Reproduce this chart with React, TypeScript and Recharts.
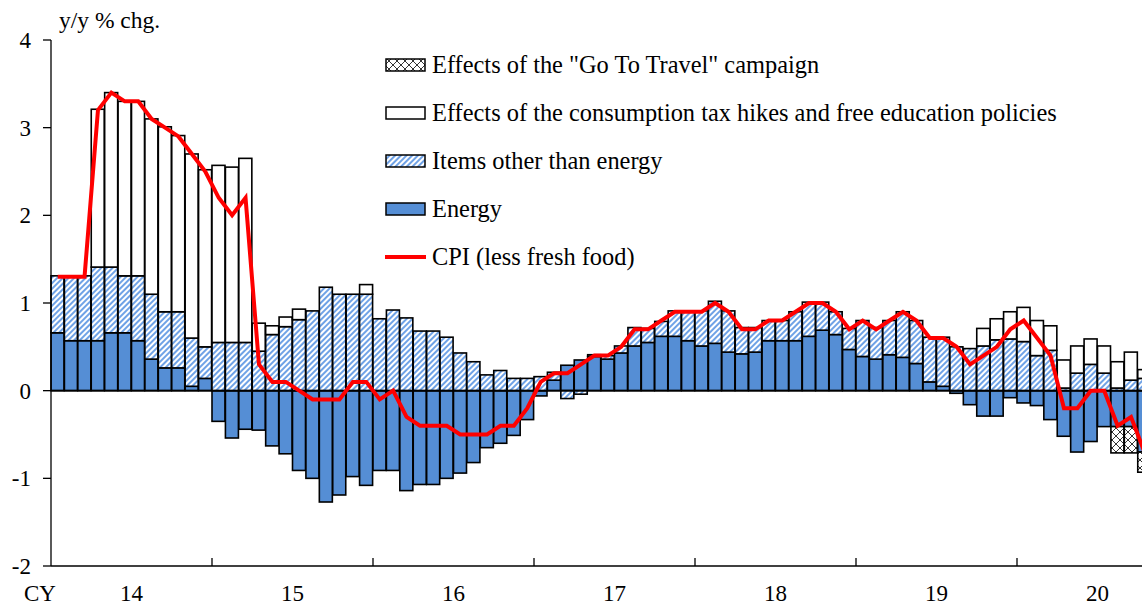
import React from 'react';
import { ComposedChart, Bar, Line, XAxis, YAxis, ReferenceLine, Legend } from 'recharts';

const FONT = '"Times New Roman", "Liberation Serif", "DejaVu Serif", serif';

const years = ['14', '15', '16', '17', '18', '19', '20'];
const monthNames = ['Jan', 'Feb', 'Mar', 'Apr', 'May', 'Jun', 'Jul', 'Aug', 'Sep', 'Oct', 'Nov', 'Dec'];
const months = years.flatMap((y) => monthNames.map((m) => `${m}-${y}`));
// Jan ticks mark the year boundaries, Jul ticks carry the year labels
const yearTicks = years.flatMap((y) => [`Jan-${y}`, `Jul-${y}`]);

const energy = [
  0.66, 0.57, 0.57, 0.57, 0.66, 0.66, 0.57, 0.36, 0.26, 0.26, 0.05, 0.14,
  -0.35, -0.54, -0.44, -0.45, -0.63, -0.72, -0.91, -1.0, -1.27, -1.19, -0.98, -1.08,
  -0.91, -0.91, -1.14, -1.07, -1.07, -1.0, -0.94, -0.82, -0.65, -0.6, -0.51, -0.33,
  -0.06, 0.12, 0.29, 0.35, 0.39, 0.36, 0.43, 0.51, 0.55, 0.62, 0.62, 0.57,
  0.51, 0.54, 0.44, 0.42, 0.44, 0.57, 0.57, 0.57, 0.62, 0.69, 0.64, 0.47,
  0.39, 0.36, 0.41, 0.38, 0.31, 0.1, 0.05, -0.03, -0.16, -0.29, -0.29, -0.08,
  -0.14, -0.17, -0.33, -0.52, -0.7, -0.58, -0.41, -0.41, -0.41, -0.7,
];

const otherItems = [
  0.65, 0.74, 0.74, 0.84, 0.75, 0.65, 0.74, 0.74, 0.64, 0.64, 0.55, 0.36,
  0.55, 0.55, 0.55, 0.45, 0.64, 0.73, 0.81, 0.91, 1.18, 1.1, 1.1, 1.1,
  0.82, 0.92, 0.83, 0.68, 0.68, 0.61, 0.43, 0.33, 0.18, 0.23, 0.14, 0.14,
  0.16, 0.09, -0.09, -0.04, 0.02, 0.04, 0.08, 0.21, 0.16, 0.17, 0.29, 0.34,
  0.4, 0.48, 0.47, 0.3, 0.28, 0.23, 0.23, 0.33, 0.39, 0.32, 0.26, 0.24,
  0.41, 0.36, 0.39, 0.52, 0.49, 0.51, 0.56, 0.5, 0.48, 0.51, 0.58, 0.59,
  0.56, 0.4, 0.46, 0.03, 0.2, 0.3, 0.2, 0.03, 0.12, 0.14,
];

const taxEffects = [
  null, null, null, 1.8, 1.99, 1.99, 1.99, 2.0, 2.11, 2.01, 2.1, 2.02,
  2.02, 2.0, 2.1, 0.32, 0.1, 0.11, 0.12, null, null, null, null, 0.11,
  null, null, null, null, null, null, null, null, null, null, null, null,
  null, null, null, null, null, null, null, null, null, null, null, null,
  null, null, null, null, null, null, null, null, null, null, null, null,
  null, null, null, null, null, null, null, null, null, 0.2, 0.24, 0.31,
  0.39, 0.4, 0.28, 0.32, 0.31, 0.29, 0.31, 0.3, 0.32, 0.1,
];

const goToTravel = [
  null, null, null, null, null, null, null, null, null, null, null, null,
  null, null, null, null, null, null, null, null, null, null, null, null,
  null, null, null, null, null, null, null, null, null, null, null, null,
  null, null, null, null, null, null, null, null, null, null, null, null,
  null, null, null, null, null, null, null, null, null, null, null, null,
  null, null, null, null, null, null, null, null, null, null, null, null,
  null, null, null, null, null, null, null, -0.3, -0.3, -0.23,
];

const cpi = [
  1.3, 1.3, 1.3, 3.2, 3.4, 3.3, 3.3, 3.1, 3.0, 2.9, 2.7, 2.5,
  2.2, 2.0, 2.2, 0.3, 0.1, 0.1, 0.0, -0.1, -0.1, -0.1, 0.1, 0.1,
  -0.1, 0.0, -0.3, -0.4, -0.4, -0.4, -0.5, -0.5, -0.5, -0.4, -0.4, -0.2,
  0.1, 0.2, 0.2, 0.3, 0.4, 0.4, 0.5, 0.7, 0.7, 0.8, 0.9, 0.9,
  0.9, 1.0, 0.9, 0.7, 0.7, 0.8, 0.8, 0.9, 1.0, 1.0, 0.9, 0.7,
  0.8, 0.7, 0.8, 0.9, 0.8, 0.6, 0.6, 0.5, 0.3, 0.4, 0.5, 0.7,
  0.8, 0.6, 0.4, -0.2, -0.2, 0.0, 0.0, -0.4, -0.3, -0.7,
];

const yTicks = [-2, -1, 0, 1, 2, 3, 4];

const data = months.map((m, i) => ({
  m,
  energy: energy[i] ?? null,
  other: otherItems[i] ?? null,
  tax: taxEffects[i] ?? null,
  gtt: goToTravel[i] ?? null,
  cpi: cpi[i] ?? null,
}));

const legendItems = [
  { label: 'Effects of the "Go To Travel" campaign', fill: 'url(#crossPat)' },
  { label: 'Effects of the consumption tax hikes and free education policies', fill: '#ffffff' },
  { label: 'Items other than energy', fill: 'url(#hatchPat)' },
  { label: 'Energy', fill: '#558ed5' },
  { label: 'CPI (less fresh food)', line: true },
];

const BarShape = (props: any) => {
  const { x, y, width, height, fill } = props;
  if (!height || Math.abs(height) < 0.01) return null;
  const top = height < 0 ? y + height : y;
  return (
    <rect x={x} y={top} width={width} height={Math.abs(height)} fill={fill} stroke="#000" strokeWidth={1.6} />
  );
};

const YearTick = (props: any) => {
  const { x, y, payload } = props;
  const value: string = payload.value;
  const bx = x - (payload.offset ?? 6.71); // left edge of the month band
  const textStyle = { fontFamily: FONT, fontSize: 23, fill: '#000' };
  if (value.startsWith('Jan')) {
    const first = value === yearTicks[0];
    return (
      <g>
        {!first && <line x1={bx} x2={bx} y1={y} y2={y - 8} stroke="#000" strokeWidth={1.3} />}
        {first && (
          <text x={bx - 11} y={y + 35} textAnchor="middle" style={textStyle}>
            CY
          </text>
        )}
      </g>
    );
  }
  return (
    <text x={bx} y={y + 35} textAnchor="middle" style={textStyle}>
      {value.slice(4)}
    </text>
  );
};

const LegendBox = () => (
  <div style={{ fontFamily: FONT, fontSize: 24.4, color: '#000' }}>
    {legendItems.map((item) => (
      <div key={item.label} style={{ display: 'flex', alignItems: 'center', height: 48, whiteSpace: 'nowrap' }}>
        <svg width={47} height={16} style={{ flex: 'none' }}>
          {item.line ? (
            <line x1={0} x2={41} y1={8} y2={8} stroke="#ff0000" strokeWidth={4} />
          ) : (
            <rect x={1} y={2} width={39} height={12} fill={item.fill} stroke="#000" strokeWidth={1.5} />
          )}
        </svg>
        <span>{item.label}</span>
      </div>
    ))}
  </div>
);

export default function App() {
  return (
    <div
      style={{
        position: 'fixed',
        left: 0,
        top: 0,
        width: 1142,
        height: 608,
        overflow: 'hidden',
        background: '#fff',
        fontFamily: FONT,
      }}
    >
      <svg width={0} height={0} style={{ position: 'absolute' }}>
        <defs>
          <pattern id="hatchPat" patternUnits="userSpaceOnUse" width={4} height={4} patternTransform="rotate(45)">
            <rect width={4} height={4} fill="#ffffff" />
            <rect width={2} height={4} fill="#6fa2e6" />
          </pattern>
          <pattern id="crossPat" patternUnits="userSpaceOnUse" width={8} height={8}>
            <rect width={8} height={8} fill="#ffffff" />
            <path d="M0,0 L8,8 M8,0 L0,8" stroke="#000" strokeWidth={0.8} />
          </pattern>
        </defs>
      </svg>
      <ComposedChart
        width={1200}
        height={608}
        data={data}
        stackOffset="sign"
        barCategoryGap={0}
        barGap={0}
        margin={{ top: 40, right: 22, left: 0, bottom: 0 }}
      >
        <XAxis
          dataKey="m"
          ticks={yearTicks}
          interval={0}
          height={42}
          tickLine={false}
          tickSize={0}
          tickMargin={0}
          axisLine={{ stroke: '#000', strokeWidth: 1.3 }}
          tick={<YearTick />}
        />
        <YAxis
          domain={[-2, 4]}
          ticks={yTicks}
          interval={0}
          width={51}
          tickSize={8}
          tickMargin={12}
          axisLine={{ stroke: '#000', strokeWidth: 1.3 }}
          tickLine={{ stroke: '#000', strokeWidth: 1.3 }}
          tick={{ fill: '#000', fontSize: 23, fontFamily: FONT }}
          label={() => (
            <text x={59} y={28} style={{ fontFamily: FONT, fontSize: 23.5, fill: '#000' }}>
              y/y % chg.
            </text>
          )}
        />
        <Legend
          content={<LegendBox />}
          layout="vertical"
          align="center"
          verticalAlign="middle"
          wrapperStyle={{ left: 385, top: 41, width: 757 }}
        />
        <Bar dataKey="energy" stackId="a" fill="#558ed5" shape={<BarShape />} isAnimationActive={false} />
        <Bar dataKey="other" stackId="a" fill="url(#hatchPat)" shape={<BarShape />} isAnimationActive={false} />
        <Bar dataKey="tax" stackId="a" fill="#ffffff" shape={<BarShape />} isAnimationActive={false} />
        <Bar dataKey="gtt" stackId="a" fill="url(#crossPat)" shape={<BarShape />} isAnimationActive={false} />
        <ReferenceLine y={0} stroke="#000" strokeWidth={1.6} />
        <Line
          dataKey="cpi"
          type="linear"
          stroke="#ff0000"
          strokeWidth={4}
          dot={false}
          activeDot={false}
          isAnimationActive={false}
        />
      </ComposedChart>
    </div>
  );
}
